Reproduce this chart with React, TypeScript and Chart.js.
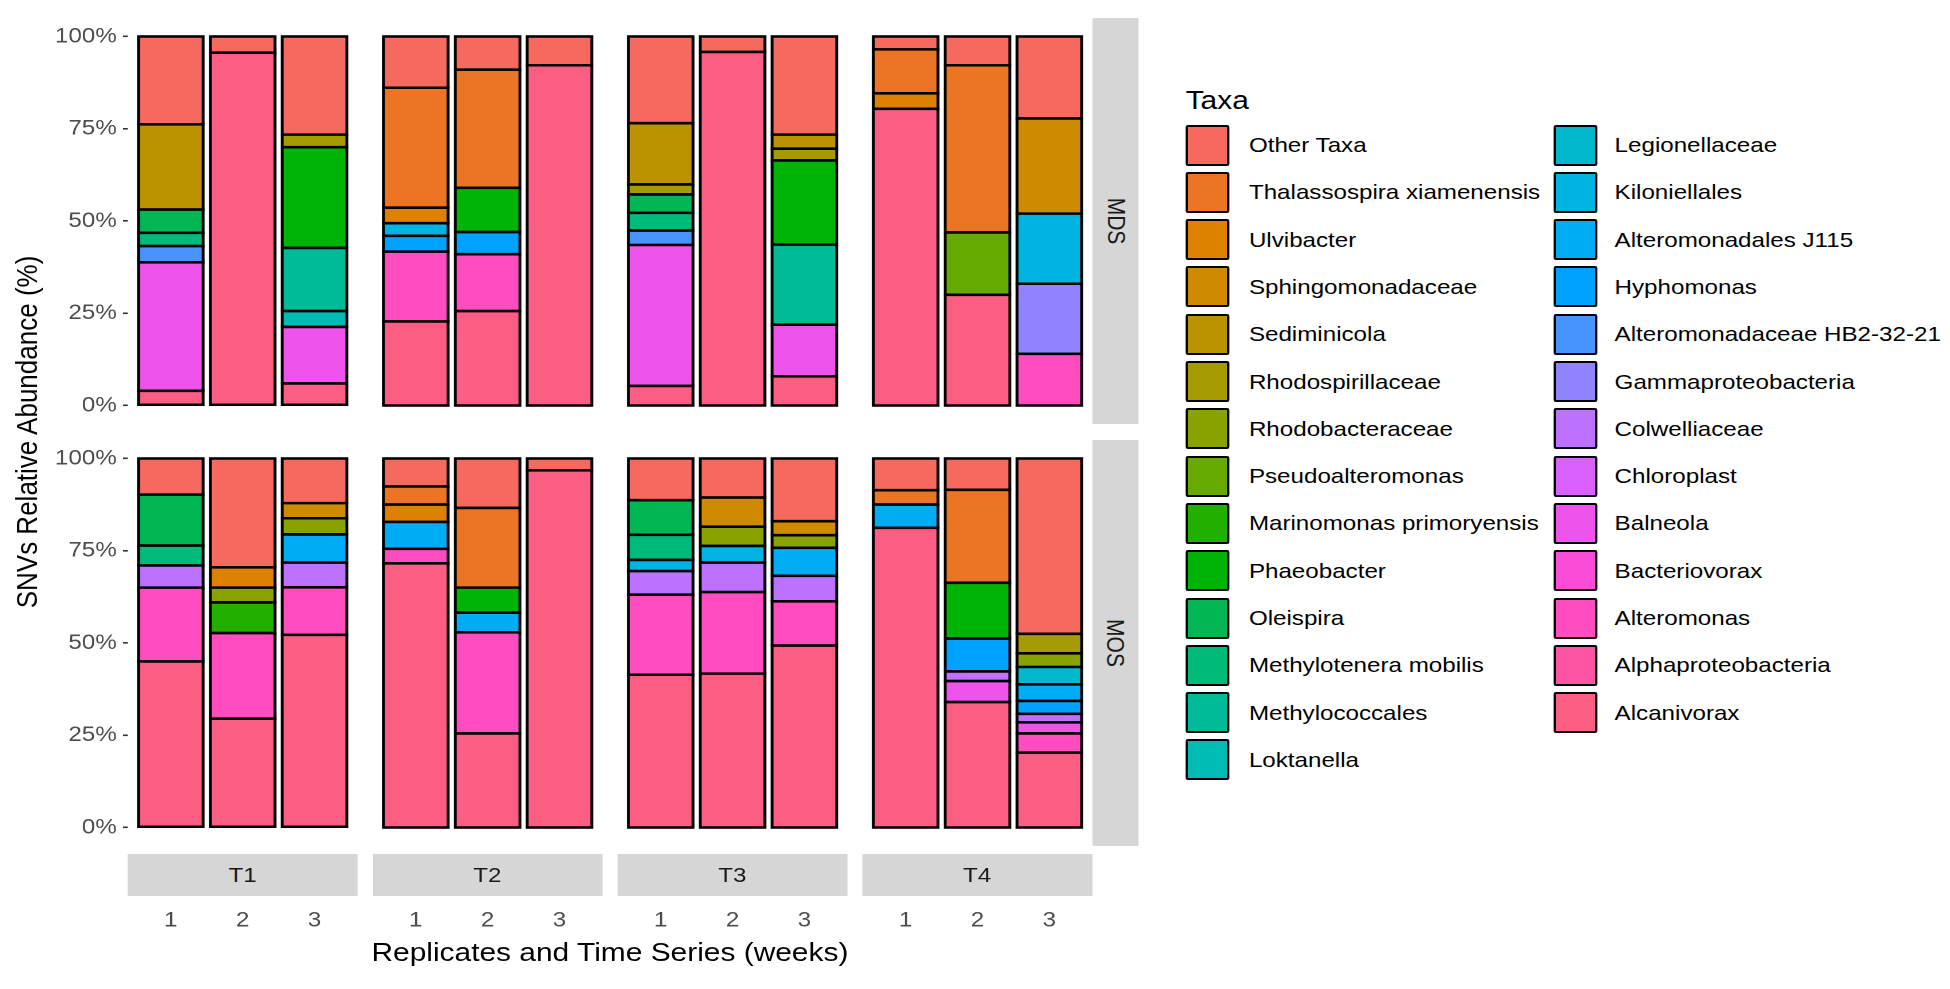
import React, { useEffect, useRef } from "react";
import { Chart, registerables } from "chart.js";

Chart.register(...registerables);

// ---------------- data ----------------
const TAXA = [
  "Other Taxa",
  "Thalassospira xiamenensis",
  "Ulvibacter",
  "Sphingomonadaceae",
  "Sediminicola",
  "Rhodospirillaceae",
  "Rhodobacteraceae",
  "Pseudoalteromonas",
  "Marinomonas primoryensis",
  "Phaeobacter",
  "Oleispira",
  "Methylotenera mobilis",
  "Methylococcales",
  "Loktanella",
  "Legionellaceae",
  "Kiloniellales",
  "Alteromonadales J115",
  "Hyphomonas",
  "Alteromonadaceae HB2-32-21",
  "Gammaproteobacteria",
  "Colwelliaceae",
  "Chloroplast",
  "Balneola",
  "Bacteriovorax",
  "Alteromonas",
  "Alphaproteobacteria",
  "Alcanivorax",
];
const ROWS = ["MDS", "MOS"];
const COLS = ["T1", "T2", "T3", "T4"];
const REPLICATES = [1, 2, 3];
const Y_TICKS = [0, 25, 50, 75, 100];
const LEGEND_TITLE = "Taxa";
const X_TITLE = "Replicates and Time Series (weeks)";
const Y_TITLE = "SNVs Relative Abundance (%)";

type Seg = [string, number];
// each facet: three replicate bars, segments (taxon, %) listed top to bottom
const MDS_T1: Seg[][] = [
  [["Other Taxa", 23.8], ["Sediminicola", 23.1], ["Oleispira", 6.3], ["Methylotenera mobilis", 3.6], ["Alteromonadaceae HB2-32-21", 4.4], ["Balneola", 34.8], ["Alcanivorax", 4.0]],
  [["Other Taxa", 4.4], ["Alcanivorax", 95.6]],
  [["Other Taxa", 26.6], ["Rhodospirillaceae", 3.4], ["Phaeobacter", 27.3], ["Methylococcales", 17.1], ["Loktanella", 4.3], ["Balneola", 15.3], ["Alcanivorax", 6.0]],
];
const MDS_T2: Seg[][] = [
  [["Other Taxa", 13.9], ["Thalassospira xiamenensis", 32.5], ["Ulvibacter", 4.2], ["Kiloniellales", 3.4], ["Hyphomonas", 4.3], ["Alteromonas", 18.9], ["Alcanivorax", 22.8]],
  [["Other Taxa", 9.0], ["Thalassospira xiamenensis", 32.0], ["Phaeobacter", 12.0], ["Hyphomonas", 6.0], ["Alteromonas", 15.4], ["Alcanivorax", 25.6]],
  [["Other Taxa", 7.8], ["Alcanivorax", 92.2]],
];
const MDS_T3: Seg[][] = [
  [["Other Taxa", 23.5], ["Sediminicola", 16.6], ["Rhodospirillaceae", 2.7], ["Oleispira", 5.0], ["Methylotenera mobilis", 4.8], ["Alteromonadaceae HB2-32-21", 3.9], ["Balneola", 38.2], ["Alcanivorax", 5.3]],
  [["Other Taxa", 4.2], ["Alcanivorax", 95.8]],
  [["Other Taxa", 26.6], ["Sediminicola", 3.8], ["Rhodospirillaceae", 3.2], ["Phaeobacter", 22.8], ["Methylococcales", 21.7], ["Balneola", 14.0], ["Alcanivorax", 7.9]],
];
const MDS_T4: Seg[][] = [
  [["Other Taxa", 3.5], ["Thalassospira xiamenensis", 11.9], ["Ulvibacter", 4.2], ["Alcanivorax", 80.4]],
  [["Other Taxa", 7.8], ["Thalassospira xiamenensis", 45.3], ["Pseudoalteromonas", 16.9], ["Alcanivorax", 30.0]],
  [["Other Taxa", 22.2], ["Sphingomonadaceae", 25.8], ["Kiloniellales", 19.0], ["Gammaproteobacteria", 19.0], ["Alteromonas", 14.0]],
];
const MOS_T1: Seg[][] = [
  [["Other Taxa", 9.8], ["Oleispira", 13.8], ["Methylotenera mobilis", 5.4], ["Colwelliaceae", 6.0], ["Alteromonas", 20.0], ["Alcanivorax", 45.0]],
  [["Other Taxa", 29.5], ["Ulvibacter", 5.5], ["Rhodobacteraceae", 4.0], ["Marinomonas primoryensis", 8.3], ["Alteromonas", 23.2], ["Alcanivorax", 29.5]],
  [["Other Taxa", 12.1], ["Sphingomonadaceae", 4.1], ["Rhodobacteraceae", 4.4], ["Alteromonadales J115", 7.6], ["Colwelliaceae", 6.7], ["Alteromonas", 12.9], ["Alcanivorax", 52.2]],
];
const MOS_T2: Seg[][] = [
  [["Other Taxa", 7.6], ["Thalassospira xiamenensis", 4.9], ["Ulvibacter", 4.7], ["Alteromonadales J115", 7.3], ["Alteromonas", 3.9], ["Alcanivorax", 71.6]],
  [["Other Taxa", 13.4], ["Thalassospira xiamenensis", 21.6], ["Phaeobacter", 6.8], ["Alteromonadales J115", 5.3], ["Alteromonas", 27.4], ["Alcanivorax", 25.5]],
  [["Other Taxa", 3.2], ["Alcanivorax", 96.8]],
];
const MOS_T3: Seg[][] = [
  [["Other Taxa", 11.3], ["Oleispira", 9.4], ["Methylotenera mobilis", 6.8], ["Kiloniellales", 3.0], ["Colwelliaceae", 6.4], ["Alteromonas", 21.7], ["Alcanivorax", 41.4]],
  [["Other Taxa", 10.6], ["Sphingomonadaceae", 7.9], ["Rhodobacteraceae", 5.2], ["Kiloniellales", 4.5], ["Colwelliaceae", 8.0], ["Alteromonas", 22.1], ["Alcanivorax", 41.7]],
  [["Other Taxa", 17.0], ["Sphingomonadaceae", 3.8], ["Rhodobacteraceae", 3.4], ["Alteromonadales J115", 7.6], ["Colwelliaceae", 6.9], ["Alteromonas", 12.0], ["Alcanivorax", 49.3]],
];
const MOS_T4: Seg[][] = [
  [["Other Taxa", 8.6], ["Thalassospira xiamenensis", 3.9], ["Alteromonadales J115", 6.3], ["Alcanivorax", 81.2]],
  [["Other Taxa", 8.5], ["Thalassospira xiamenensis", 25.2], ["Phaeobacter", 15.1], ["Hyphomonas", 8.9], ["Colwelliaceae", 2.6], ["Balneola", 5.7], ["Alcanivorax", 34.0]],
  [["Other Taxa", 47.5], ["Rhodospirillaceae", 5.3], ["Rhodobacteraceae", 3.7], ["Legionellaceae", 4.7], ["Alteromonadales J115", 4.5], ["Hyphomonas", 3.5], ["Colwelliaceae", 2.3], ["Balneola", 3.0], ["Alteromonas", 5.2], ["Alcanivorax", 20.3]],
];

const PANELS: Seg[][][][] = [
  [MDS_T1, MDS_T2, MDS_T3, MDS_T4],
  [MOS_T1, MOS_T2, MOS_T3, MOS_T4],
];

// ---------------- style / layout ----------------
const SX = 1.15; // horizontal stretch of the reference image
const FONT = "'Liberation Sans', Arial, sans-serif";
const PANEL_LEFT = 111;
const PANEL_W = 200;
const GAP = 12.9;
const ROW_TOP = [18, 440];
const PANEL_H = 406;
const Y_AXIS_W = 73;
const X_AXIS_H = 100;
const PANELS_RIGHT = PANEL_LEFT + 4 * PANEL_W + 3 * GAP;

function hcl(h: number, c: number, l: number): string {
  const Xn = 0.95047, Yn = 1, Zn = 1.08883;
  const den = Xn + 15 * Yn + 3 * Zn;
  const un = (4 * Xn) / den, vn = (9 * Yn) / den;
  const hr = (h * Math.PI) / 180;
  const U = c * Math.cos(hr), V = c * Math.sin(hr);
  const Y = l > 8 ? Math.pow((l + 16) / 116, 3) : l / 903.3;
  const up = U / (13 * l) + un, vp = V / (13 * l) + vn;
  const X = (Y * 9 * up) / (4 * vp);
  const Z = (Y * (12 - 3 * up - 20 * vp)) / (4 * vp);
  const r = 3.240479 * X - 1.53715 * Y - 0.498535 * Z;
  const g = -0.969256 * X + 1.875992 * Y + 0.041556 * Z;
  const b = 0.055648 * X - 0.204043 * Y + 1.057311 * Z;
  const gam = (v: number) => {
    v = Math.min(1, Math.max(0, v));
    const s = v <= 0.0031308 ? 12.92 * v : 1.055 * Math.pow(v, 1 / 2.4) - 0.055;
    return Math.round(s * 255);
  };
  return `rgb(${gam(r)},${gam(g)},${gam(b)})`;
}

const COLORS: Record<string, string> = {};
TAXA.forEach((t, i) => {
  COLORS[t] = hcl(15 + (i * 360) / TAXA.length, 110, 62);
});

function Panel({ row, col }: { row: number; col: number }) {
  const ref = useRef<HTMLCanvasElement>(null);
  const showY = col === 0;
  const showX = row === ROWS.length - 1;
  const left = PANEL_LEFT + col * (PANEL_W + GAP) - (showY ? Y_AXIS_W : 0);
  const top = ROW_TOP[row];
  const w = PANEL_W + (showY ? Y_AXIS_W : 0);
  const h = PANEL_H + (showX ? X_AXIS_H : 0);

  useEffect(() => {
    const bars = PANELS[row][col];
    const datasets = [...TAXA].reverse().map((taxon) => ({
      label: taxon,
      data: bars
        .map((segs, i) => {
          const s = segs.find((t) => t[0] === taxon);
          return s ? { x: REPLICATES[i], y: s[1] } : null;
        })
        .filter((p) => p !== null) as { x: number; y: number }[],
      backgroundColor: COLORS[taxon],
      borderColor: "#000000",
      borderWidth: 2.6,
      borderSkipped: false as const,
      inflateAmount: 1.3,
      categoryPercentage: 1,
      barPercentage: 0.9,
    }));
    const chart = new Chart(ref.current!, {
      type: "bar",
      data: { datasets: datasets as any },
      options: {
        animation: false,
        responsive: false,
        devicePixelRatio: 2,
        layout: { padding: 0 },
        plugins: { legend: { display: false }, tooltip: { enabled: false } },
        scales: {
          x: {
            type: "linear",
            min: 0.4,
            max: 3.6,
            offset: false,
            stacked: true,
            display: showX,
            position: "bottom",
            grid: { display: false, offset: false },
            border: { display: false },
            afterBuildTicks: (axis: any) => {
              axis.ticks = REPLICATES.map((v) => ({ value: v }));
            },
            afterFit: (scale: any) => {
              scale.height = showX ? X_AXIS_H : 0;
              scale.paddingLeft = 0;
              scale.paddingRight = 0;
            },
            ticks: {
              padding: 54,
              maxRotation: 0,
              color: "#4D4D4D",
              font: { family: FONT, size: 21 },
              callback: (v: any) => String(v),
            },
          },
          y: {
            type: "linear",
            min: -5,
            max: 105,
            stacked: true,
            display: showY,
            offset: false,
            grid: {
              display: true,
              drawOnChartArea: false,
              drawTicks: true,
              tickLength: 4,
              color: "#333333",
              lineWidth: 1.6,
            },
            border: { display: false },
            afterBuildTicks: (axis: any) => {
              axis.ticks = Y_TICKS.map((v) => ({ value: v }));
            },
            afterFit: (scale: any) => {
              scale.width = showY ? Y_AXIS_W : 0;
              scale.paddingTop = 0;
              scale.paddingBottom = 0;
            },
            ticks: {
              padding: 5.5,
              color: "#4D4D4D",
              font: { family: FONT, size: 21 },
              callback: (v: any) => `${v}%`,
            },
          },
        },
      },
    });
    return () => chart.destroy();
  }, [row, col]);

  return (
    <canvas
      ref={ref}
      width={w}
      height={h}
      style={{ position: "absolute", left, top, width: w, height: h }}
    />
  );
}

function Legend() {
  const colBreak = 14;
  const keyX = [1031, 1351];
  const textX = [1086, 1404];
  return (
    <>
      <div
        style={{
          position: "absolute",
          left: 1031,
          top: 100 - 15,
          height: 30,
          lineHeight: "30px",
          fontSize: 26,
          color: "#000",
          whiteSpace: "nowrap",
        }}
      >
        {LEGEND_TITLE}
      </div>
      {TAXA.map((t, i) => {
        const c = i < colBreak ? 0 : 1;
        const r = i < colBreak ? i : i - colBreak;
        const cy = 145 + r * 47.3;
        return (
          <React.Fragment key={t}>
            <div
              style={{
                position: "absolute",
                left: keyX[c],
                top: cy - 20.5,
                width: 38,
                height: 41,
                boxSizing: "border-box",
                background: COLORS[t],
                border: "2.3px solid #000",
                borderRadius: 2,
              }}
            />
            <div
              style={{
                position: "absolute",
                left: textX[c],
                top: cy - 15,
                height: 30,
                lineHeight: "30px",
                fontSize: 21,
                color: "#000",
                whiteSpace: "nowrap",
              }}
            >
              {t}
            </div>
          </React.Fragment>
        );
      })}
    </>
  );
}

export default function App() {
  return (
    <div
      style={{
        position: "absolute",
        left: 0,
        top: 0,
        width: 1950 / SX,
        height: 989,
        transform: `scaleX(${SX})`,
        transformOrigin: "0 0",
        background: "#fff",
        fontFamily: FONT,
        overflow: "hidden",
      }}
    >
      {ROWS.map((_, r) => COLS.map((__, c) => <Panel key={`${r}-${c}`} row={r} col={c} />))}
      {/* right strips */}
      {ROWS.map((lab, r) => (
        <div
          key={lab}
          style={{
            position: "absolute",
            left: PANELS_RIGHT + 0.5,
            top: ROW_TOP[r],
            width: 40,
            height: PANEL_H,
            background: "#D6D6D6",
            display: "flex",
            alignItems: "center",
            justifyContent: "center",
          }}
        >
          <div style={{ transform: "rotate(90deg)", fontSize: 21, color: "#1A1A1A", whiteSpace: "nowrap" }}>{lab}</div>
        </div>
      ))}
      {/* bottom strips */}
      {COLS.map((lab, c) => (
        <div
          key={lab}
          style={{
            position: "absolute",
            left: PANEL_LEFT + c * (PANEL_W + GAP),
            top: 854,
            width: PANEL_W,
            height: 42,
            background: "#D6D6D6",
            display: "flex",
            alignItems: "center",
            justifyContent: "center",
            fontSize: 21,
            color: "#1A1A1A",
          }}
        >
          {lab}
        </div>
      ))}
      {/* axis titles */}
      <div
        style={{
          position: "absolute",
          left: (PANEL_LEFT + PANELS_RIGHT) / 2 - 300,
          width: 600,
          top: 952 - 16,
          height: 32,
          lineHeight: "32px",
          textAlign: "center",
          fontSize: 26,
          color: "#000",
          whiteSpace: "nowrap",
        }}
      >
        {X_TITLE}
      </div>
      <div
        style={{
          position: "absolute",
          left: 23 - 250,
          width: 500,
          top: 432 - 16,
          height: 32,
          lineHeight: "32px",
          textAlign: "center",
          fontSize: 26,
          color: "#000",
          whiteSpace: "nowrap",
          transform: "rotate(-90deg)",
        }}
      >
        {Y_TITLE}
      </div>
      <Legend />
    </div>
  );
}
